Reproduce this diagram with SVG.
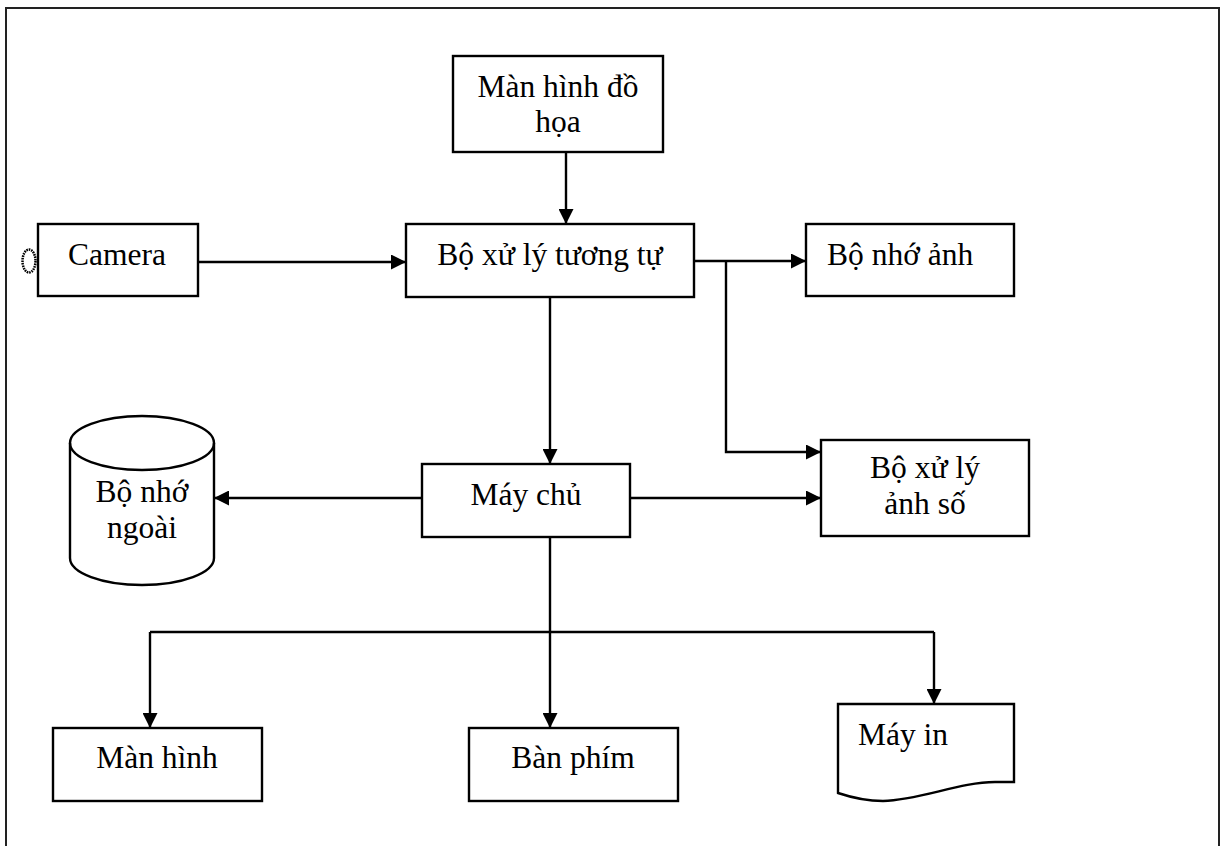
<svg xmlns="http://www.w3.org/2000/svg" width="1222" height="846" viewBox="0 0 1222 846">
  <defs>
    <marker id="arrow" viewBox="0 0 15 15" refX="15" refY="7.5" markerWidth="15" markerHeight="15" markerUnits="userSpaceOnUse" orient="auto">
      <path d="M0,0 L15,7.5 L0,15 Z" fill="#000"/>
    </marker>
    <style>
      .box { fill: #fff; stroke: #000; stroke-width: 2.4; }
      .lbl { font-family: "Liberation Serif", "Times New Roman", serif; font-size: 31.5px; fill: #000; }
      .mid { text-anchor: middle; }
      .wire { fill: none; stroke: #000; stroke-width: 2.4; }
      .arr { marker-end: url(#arrow); }
    </style>
  </defs>

  <rect width="1222" height="846" fill="#fff"/>

  <!-- outer frame -->
  <path d="M6,850 V8 H1219 V850" fill="none" stroke="#222" stroke-width="2"/>

  <!-- connectors -->
  <g id="connectors">
    <line class="wire arr" x1="198" y1="262" x2="406" y2="262"/>
    <line class="wire arr" x1="566" y1="152" x2="566" y2="224"/>
    <line class="wire arr" x1="694" y1="261" x2="806" y2="261"/>
    <polyline class="wire arr" points="726,261 726,452 821,452"/>
    <line class="wire arr" x1="550" y1="297" x2="550" y2="464"/>
    <line class="wire arr" x1="630" y1="498" x2="821" y2="498"/>
    <line class="wire arr" x1="422" y1="498" x2="214" y2="498"/>
    <line class="wire arr" x1="550" y1="537" x2="550" y2="728"/>
    <polyline class="wire arr" points="150,632 150,728"/>
    <line class="wire" x1="150" y1="632" x2="934" y2="632"/>
    <polyline class="wire arr" points="934,632 934,704"/>
  </g>

  <g id="man-hinh-do-hoa">
    <rect class="box" x="453" y="56" width="210" height="96"/>
    <text class="lbl mid" x="558" y="97">Màn hình đồ</text>
    <text class="lbl mid" x="558" y="132">họa</text>
  </g>

  <g id="camera">
    <ellipse cx="29" cy="261" rx="6.5" ry="11.5" fill="none" stroke="#000" stroke-width="2.5" stroke-dasharray="1.6 0.9"/>
    <rect class="box" x="38" y="224" width="160" height="72"/>
    <text class="lbl mid" x="117" y="265">Camera</text>
  </g>

  <g id="bo-xu-ly-tuong-tu">
    <rect class="box" x="406" y="224" width="288" height="73"/>
    <text class="lbl mid" x="550" y="265">Bộ xử lý tương tự</text>
  </g>

  <g id="bo-nho-anh">
    <rect class="box" x="806" y="224" width="208" height="72"/>
    <text class="lbl" x="827" y="265">Bộ nhớ ảnh</text>
  </g>

  <g id="bo-nho-ngoai">
    <path class="box" d="M70,443 A72,27 0 0 1 214,443 V558 A72,27 0 0 1 70,558 Z"/>
    <path class="wire" d="M70,443 A72,27 0 0 0 214,443"/>
    <text class="lbl mid" x="142" y="502">Bộ nhớ</text>
    <text class="lbl mid" x="142" y="538">ngoài</text>
  </g>

  <g id="may-chu">
    <rect class="box" x="422" y="464" width="208" height="73"/>
    <text class="lbl mid" x="526" y="505">Máy chủ</text>
  </g>

  <g id="bo-xu-ly-anh-so">
    <rect class="box" x="821" y="440" width="208" height="96"/>
    <text class="lbl mid" x="925" y="478">Bộ xử lý</text>
    <text class="lbl mid" x="925" y="514">ảnh số</text>
  </g>

  <g id="man-hinh">
    <rect class="box" x="53" y="728" width="209" height="73"/>
    <text class="lbl mid" x="157" y="768">Màn hình</text>
  </g>

  <g id="ban-phim">
    <rect class="box" x="469" y="728" width="209" height="73"/>
    <text class="lbl mid" x="573" y="768">Bàn phím</text>
  </g>

  <g id="may-in">
    <path class="box" d="M838,704 H1014 V782 H995 C960,782 920,800 883,801 C865,801 850,797 838,793 Z"/>
    <text class="lbl" x="858" y="745">Máy in</text>
  </g>
</svg>
